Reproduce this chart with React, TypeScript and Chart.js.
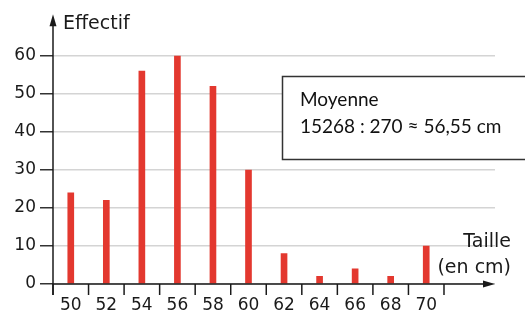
import React, { useEffect, useRef } from "react";
import { Chart, registerables } from "chart.js";

Chart.register(...registerables);

const sizes = [50, 52, 54, 56, 58, 60, 62, 64, 66, 68, 70];
const counts = [24, 22, 56, 60, 52, 30, 8, 2, 4, 2, 10];
const yTicks = [0, 10, 20, 30, 40, 50, 60];
const xBoundaries = [49, 51, 53, 55, 57, 59, 61, 63, 65, 67, 69, 71];
const yTitle = "Effectif";
const xTitle = ["Taille", "(en cm)"];
const noteLines = ["Moyenne", "15268 : 270 ≈ 56,55 cm"];

const AXIS_FONT = "DejaVu Sans";
const BAR_COLOR = "#e3382f";

const decorPlugin = {
  id: "decor",
  afterDraw(chart: any) {
    const ctx = chart.ctx as CanvasRenderingContext2D;
    const xs = chart.scales.x;
    const ys = chart.scales.y;
    const area = chart.chartArea;
    const x0 = xs.getPixelForValue(49);
    const y0 = ys.getPixelForValue(0);
    ctx.save();
    ctx.strokeStyle = "#1a1a1a";
    ctx.fillStyle = "#1a1a1a";
    ctx.lineWidth = 1.5;
    // y axis
    ctx.beginPath();
    ctx.moveTo(x0, y0 + 11);
    ctx.lineTo(x0, area.top + 10);
    ctx.stroke();
    ctx.beginPath();
    ctx.moveTo(x0, area.top);
    ctx.lineTo(x0 - 3.5, area.top + 12);
    ctx.lineTo(x0 + 3.5, area.top + 12);
    ctx.closePath();
    ctx.fill();
    // x axis
    ctx.beginPath();
    ctx.moveTo(x0, y0);
    ctx.lineTo(area.right - 10, y0);
    ctx.stroke();
    ctx.beginPath();
    ctx.moveTo(area.right, y0);
    ctx.lineTo(area.right - 12, y0 - 3.5);
    ctx.lineTo(area.right - 12, y0 + 3.5);
    ctx.closePath();
    ctx.fill();
    // x tick marks
    xBoundaries.forEach((v) => {
      const px = xs.getPixelForValue(v);
      ctx.beginPath();
      ctx.moveTo(px, y0);
      ctx.lineTo(px, y0 + 11);
      ctx.stroke();
    });
    // titles
    ctx.font = `19px "${AXIS_FONT}"`;
    ctx.textAlign = "left";
    ctx.textBaseline = "alphabetic";
    ctx.fillText(yTitle, x0 + 10, area.top + 15);
    ctx.textAlign = "right";
    ctx.fillText(xTitle[0], 511, y0 - 37);
    ctx.fillText(xTitle[1], 511, y0 - 11);
    // note box
    ctx.fillStyle = "#fff";
    ctx.fillRect(282.5, 76.5, 260, 83);
    ctx.strokeStyle = "#333";
    ctx.lineWidth = 1.5;
    ctx.strokeRect(282.5, 76.5, 260, 83);
    ctx.fillStyle = "#111";
    ctx.textAlign = "left";
    ctx.font = `19px "Lato"`;
    ctx.fillText(noteLines[0], 300, 106);
    ctx.fillText(noteLines[1], 300, 133);
    ctx.restore();
  },
};

export default function App() {
  const ref = useRef<HTMLCanvasElement>(null);
  useEffect(() => {
    if (!ref.current) return;
    const chart = new Chart(ref.current, {
      type: "bar",
      data: {
        datasets: [
          {
            data: sizes.map((s, i) => ({ x: s, y: counts[i] })),
            backgroundColor: BAR_COLOR,
            barThickness: 6,
            borderWidth: 0,
          },
        ],
      },
      options: {
        responsive: false,
        animation: false,
        layout: { padding: { top: 14, right: 30, left: 0, bottom: 0 } },
        plugins: { legend: { display: false }, tooltip: { enabled: false } },
        scales: {
          x: {
            type: "linear",
            min: 49,
            max: 73.87,
            offset: false,
            grid: { display: false, drawTicks: false },
            border: { display: false },
            afterBuildTicks: (axis: any) => {
              axis.ticks = sizes.map((v) => ({ value: v }));
            },
            afterFit: (scale: any) => {
              scale.height = 32;
            },
            ticks: {
              autoSkip: false,
              maxRotation: 0,
              padding: 11,
              color: "#1a1a1a",
              font: { family: AXIS_FONT, size: 17 },
              callback: (v: any) => String(v),
            },
          },
          y: {
            min: 0,
            max: 71,
            grid: {
              color: "#d4d4d4",
              lineWidth: 1.5,
              tickLength: 13,
              tickColor: "#333",
              drawTicks: true,
            },
            border: { display: false },
            afterBuildTicks: (axis: any) => {
              axis.ticks = yTicks.map((v) => ({ value: v }));
            },
            afterFit: (scale: any) => {
              scale.width = 53;
            },
            ticks: {
              padding: 4,
              color: "#1a1a1a",
              font: { family: AXIS_FONT, size: 17 },
            },
          },
        },
      },
      plugins: [decorPlugin],
    });
    return () => chart.destroy();
  }, []);
  return (
    <div style={{ position: "fixed", left: 0, top: 0, width: 525, height: 316, background: "#fff" }}>
      <canvas ref={ref} width={525} height={316} />
    </div>
  );
}
